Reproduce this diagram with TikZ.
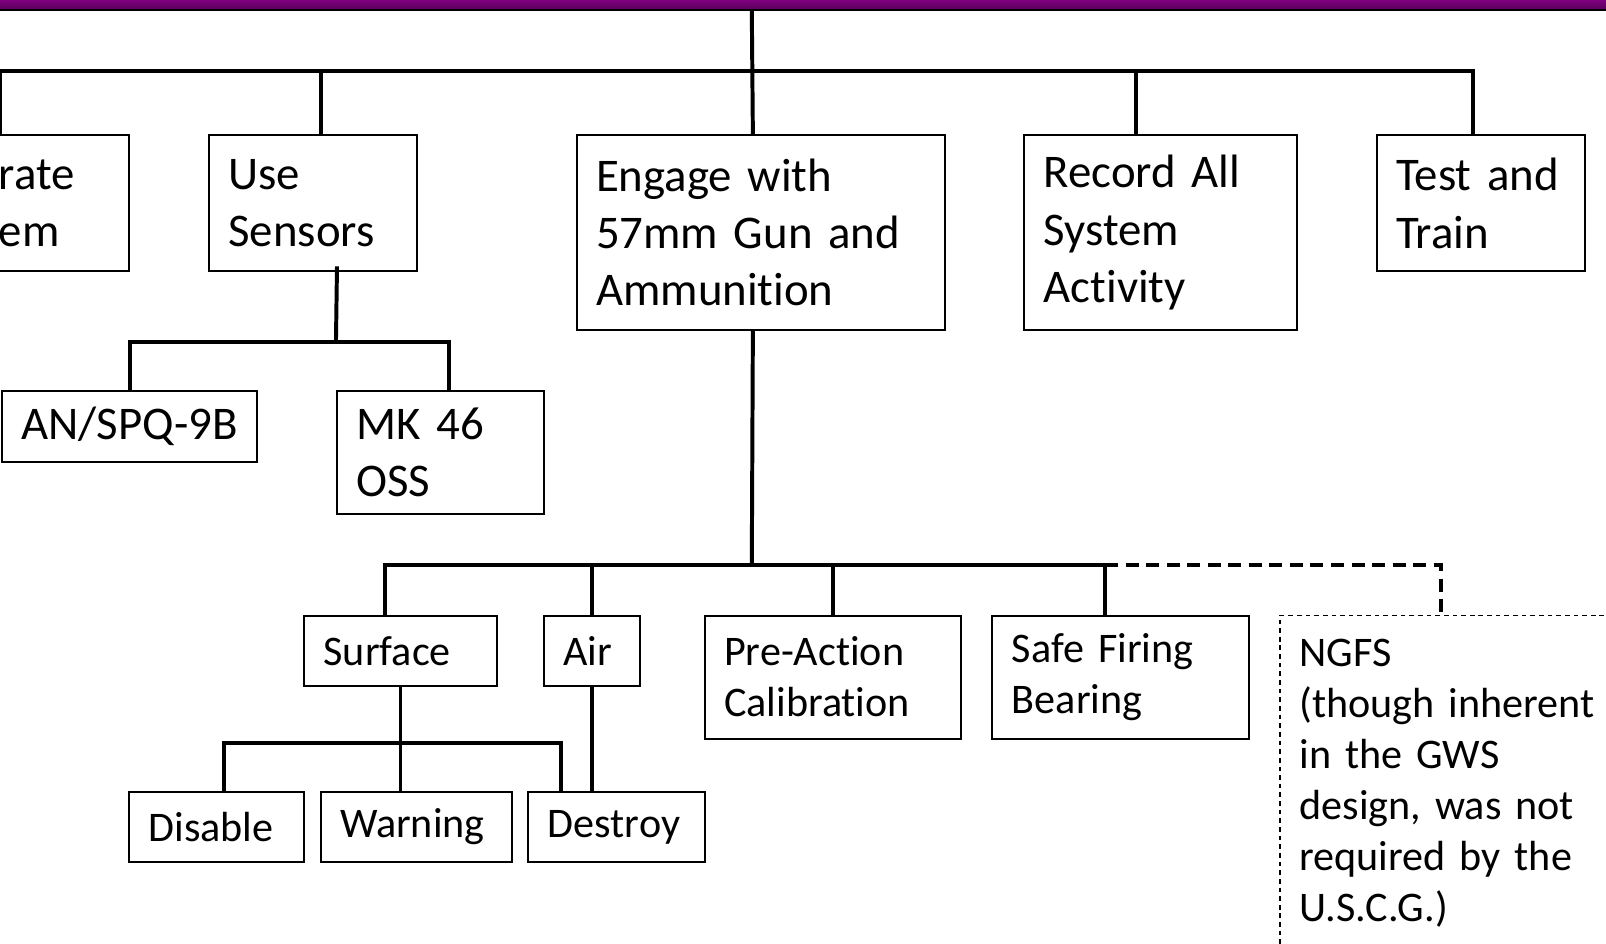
\documentclass[tikz,border=0pt]{standalone}
\usepackage{fontspec}
\setmainfont{Carlito}[Ligatures=NoCommon]
\usetikzlibrary{calc}

\definecolor{hdrtop}{RGB}{128,0,128}
\definecolor{hdrbot}{RGB}{92,0,92}

\begin{document}
\begin{tikzpicture}[
  x=0.01cm,y=-0.01cm,
  box/.style={draw,line width=0.55pt,anchor=north west,align=left,inner xsep=0.19cm,inner ysep=0pt},
  big/.style={box,font=\fontsize{13pt}{15.9pt}\selectfont},
  small/.style={box,font=\fontsize{11.7pt}{14.2pt}\selectfont},
  link/.style={line width=1.1pt},
  optlink/.style={link,dash pattern=on 3.6pt off 2.1pt},
  optbox/.style={small,solid,line width=0.4pt,dash pattern=on 1.3pt off 1.1pt},
]
  \useasboundingbox (0,0) rectangle (1568,921);
  \clip (0,0) rectangle (1568,921);

  % header strip
  \node[anchor=north west,minimum width=15.9cm,minimum height=0.09cm,inner sep=0pt,
        top color=hdrtop,bottom color=hdrbot] (bar) at (-10,-1) {};
  \draw[line width=0.6pt] (bar.south west) -- (bar.south east);

  % top level
  \node[big,text width=1.08cm,minimum height=1.33cm] (op) at (-21,131) {rate\\em};
  \node[big,text width=1.65cm,minimum height=1.33cm] (sens) at (203,131) {Use\\Sensors};
  \node[big,text width=3.21cm,minimum height=1.90cm] (eng) at (562,131) {Engage with\\57mm Gun and\\Ammunition};
  \node[big,text width=2.28cm,minimum height=1.90cm] (rec) at (999,131) {Record All\\System\\Activity};
  \node[big,text width=1.65cm,minimum height=1.33cm] (test) at (1343,131) {Test and\\Train};

  \coordinate (hub) at (734,69);
  \draw[link] (bar.south -| hub) -- ($(eng.north)+(-7.5,0)$);
  \draw[link] ($(op.north west)+(21,0)$) |- (hub);
  \draw[link] ($(sens.north)+(7.5,0)$) |- (hub);
  \draw[link] ($(rec.north)+(-24,0)$) |- (hub);
  \draw[link] ($(test.north)+(-7.5,0)$) |- (hub);

  % sensors
  \node[big,text width=2.11cm,minimum height=0.69cm] (spq) at (1,381) {AN/SPQ-9B};
  \node[big,text width=1.64cm,minimum height=1.20cm] (mk) at (328,381) {MK 46\\OSS};

  \coordinate (sbus) at (328,334);
  \draw[link] ($(sens.south)+(23.5,-6)$) -- (sbus);
  \draw[link] (spq.north) |- (sbus);
  \draw[link] ($(mk.north)+(8,0)$) |- (sbus);

  % engagement
  \node[small,text width=1.50cm,minimum height=0.69cm] (surf) at (296,600) {Surface};
  \node[small,text width=0.56cm,minimum height=0.69cm] (air) at (530,600) {Air};
  \node[small,text width=2.12cm,minimum height=1.20cm] (pre) at (687,600) {Pre-Action\\Calibration};
  \node[small,text width=2.12cm,minimum height=1.20cm] (safe) at (968,600) {Safe Firing\\Bearing};
  \node[optbox,text width=3.02cm,minimum height=3.28cm] (ngfs) at (1249,600)
    {NGFS\\(though inherent\\in the GWS\\design, was not\\required by the\\U.S.C.G.)};

  \coordinate (ebus) at (734,552);
  \coordinate (efork) at ($(safe.north)+(-15,-48)$);
  \draw[link] ($(eng.south)+(-7.5,0)$) -- (ebus);
  \draw[link] ($(surf.north)+(-15,0)$) |- (ebus);
  \draw[link] (air.north) |- (ebus);
  \draw[link] (pre.north) |- (ebus);
  \draw[link] ($(safe.north)+(-15,0)$) |- (ebus);
  \draw[optlink] (efork) -| ($(ngfs.north)+(-13,0)$);

  % outcomes
  \node[small,text width=1.33cm,minimum height=0.69cm] (dis) at (125,772) {Disable};
  \node[small,text width=1.49cm,minimum height=0.69cm] (warn) at (312,772) {Warning};
  \node[small,text width=1.34cm,minimum height=0.69cm] (dest) at (515,772) {Destroy};

  \coordinate (fbus) at (390,725);
  \draw[link] (surf.south) -- (surf.south |- warn.north);
  \draw[link] ($(dis.north)+(7.5,0)$) |- (fbus);
  \draw[link] ($(dest.north)+(-54,0)$) |- (fbus);
  \draw[link] (air.south) -- (air.south |- dest.north);
\end{tikzpicture}
\end{document}
